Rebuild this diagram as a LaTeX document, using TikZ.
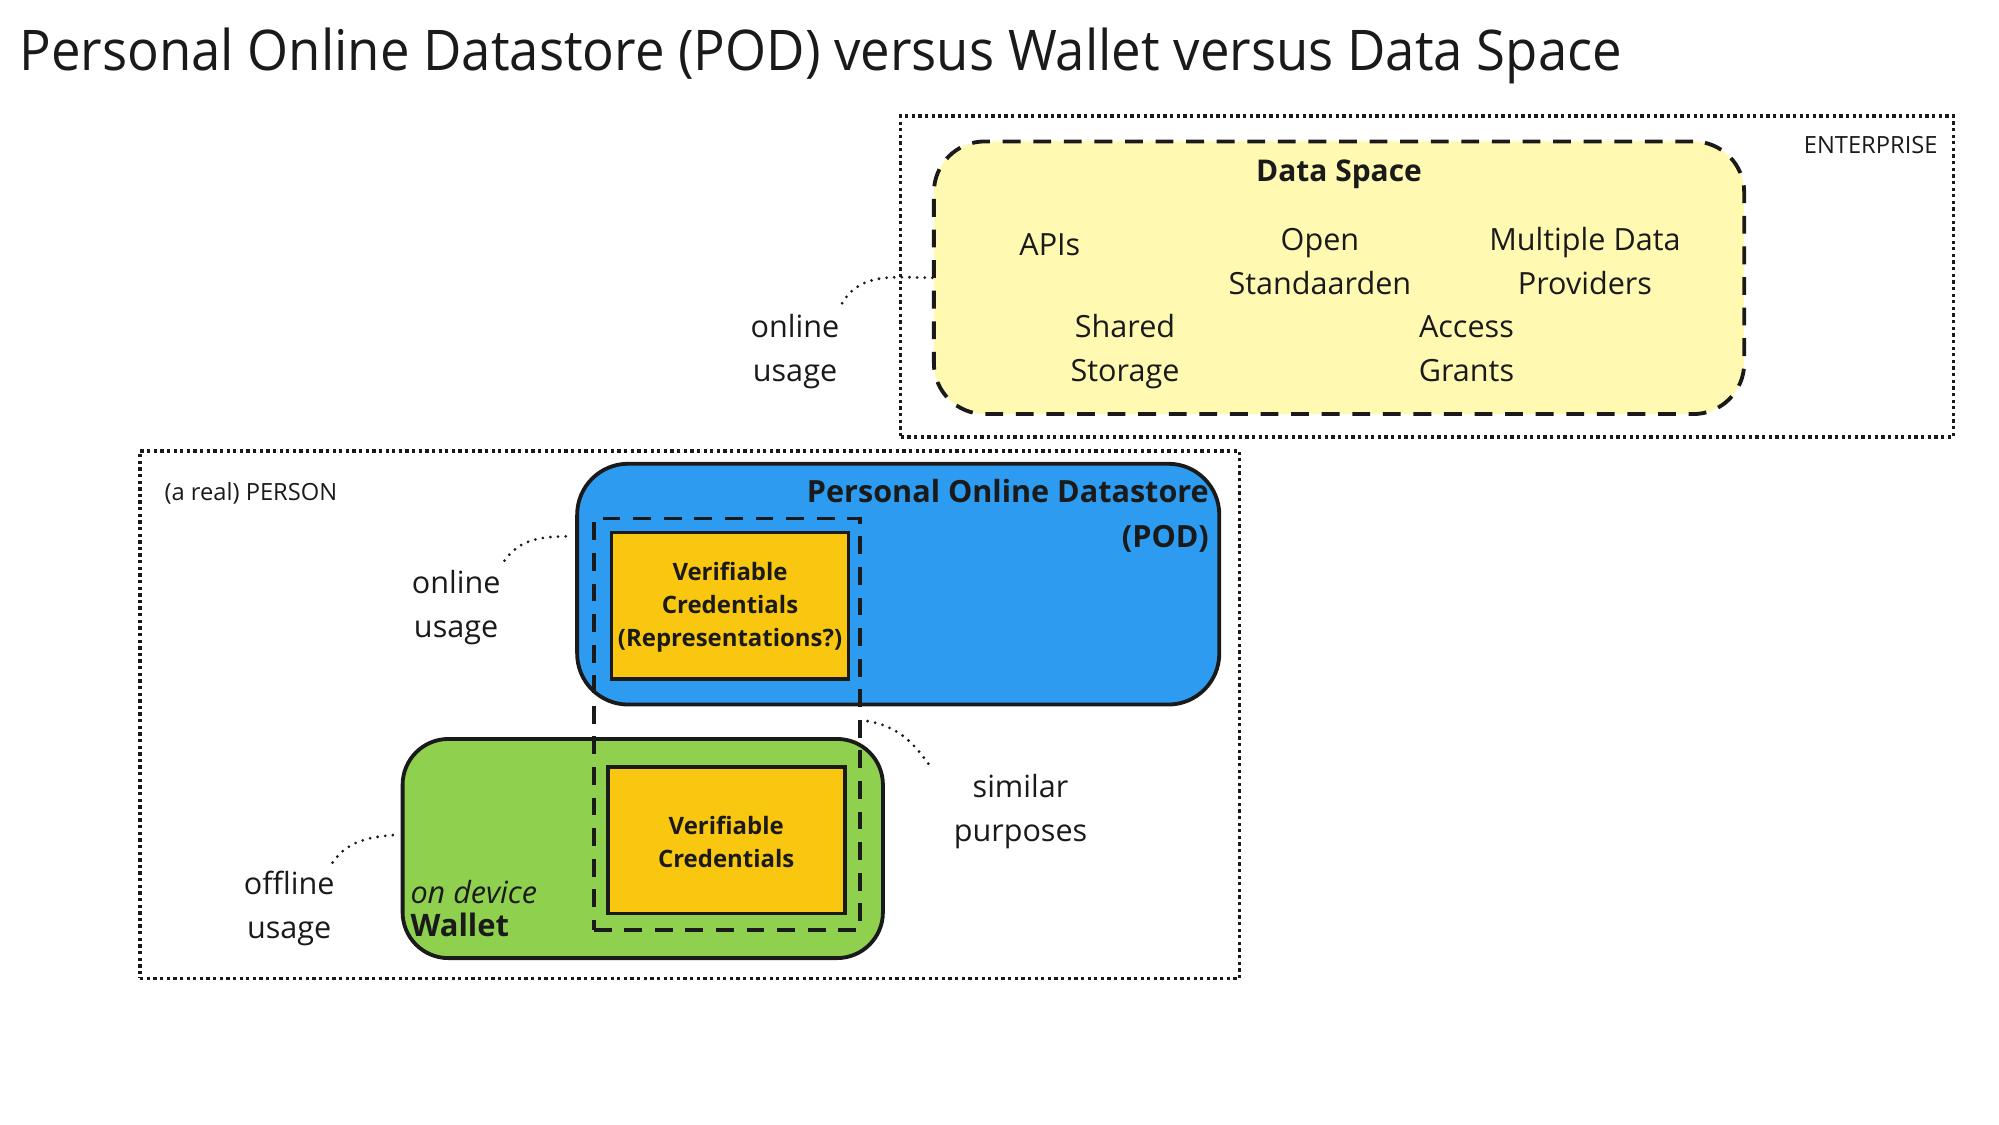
\documentclass[tikz,border=0pt]{standalone}
\usepackage{fontspec}
\setmainfont{Open Sans}
\newfontfamily\titlefont{Open Sans}[FakeStretch=0.94]
\definecolor{ink}{HTML}{1A1A1A}
\definecolor{dsyellow}{HTML}{FFF9B1}
\definecolor{podblue}{HTML}{2D9BF0}
\definecolor{walletgreen}{HTML}{8FD14F}
\definecolor{vcyellow}{HTML}{FAC710}
\begin{document}
\begin{tikzpicture}[x=1pt,y=-1pt,
  frame/.style={draw=ink, line width=2.6pt, dash pattern=on 2.6pt off 2.6pt, inner sep=0pt, outer sep=0pt, anchor=north west},
  box/.style={draw=ink, line width=3pt, inner sep=0pt, outer sep=0pt, anchor=north west},
  dashbox/.style={draw=ink, line width=3pt, dash pattern=on 14pt off 10pt, inner sep=0pt, outer sep=0pt, anchor=north west},
  lbl/.style={font=\fontsize{24}{34.5}\selectfont, text=ink, align=center, inner sep=0pt},
  small/.style={font=\fontsize{18.6}{22}\selectfont, text=ink, inner sep=0pt},
  vctext/.style={font=\bfseries\fontsize{18.8}{26}\selectfont, text=ink, align=center, inner sep=0pt},
  conn/.style={draw=ink, line width=2.4pt, dash pattern=on 0pt off 6pt, line cap=round}
]
\useasboundingbox (0,0) rectangle (1569,882.6);
\fill[white] (0,0) rectangle (1569,882.6);

% title
\node[anchor=base west, inner sep=0pt, text=ink, font=\titlefont\fontsize{44}{50}\selectfont] (title) at (15,55) {Personal Online Datastore (POD) versus Wallet versus Data Space};

% enterprise
\node[frame, minimum width=826pt, minimum height=252pt] (ent) at (707,91) {};
\node[small, anchor=east] (entl) at (1521,114) {ENTERPRISE};
\node[dashbox, fill=dsyellow, rounded corners=40pt, minimum width=636pt, minimum height=214pt] (ds) at (733,111) {};
\node[font=\bfseries\fontsize{23.5}{28}\selectfont, text=ink, inner sep=0pt] (dst) at (1051,137) {Data Space};
\node[lbl] (apis) at (824,192) {APIs};
\node[lbl] (open) at (1036,205) {Open\\Standaarden};
\node[lbl] (mdp) at (1244,205) {Multiple Data\\Providers};
\node[lbl] (shs) at (883,276) {Shared\\Storage};
\node[lbl] (acg) at (1151,274) {Access\\Grants};
\node[lbl] (ou1) at (624,276) {online\\usage};

% person
\node[frame, minimum width=863pt, minimum height=414pt] (per) at (110,354) {};
\node[small, anchor=west] (perl) at (129,387) {(a real) PERSON};

% POD
\node[box, fill=podblue, rounded corners=40pt, minimum width=504pt, minimum height=189pt] (pod) at (453,364) {};
\node[font=\bfseries\fontsize{24}{35}\selectfont, text=ink, align=right, inner sep=0pt, anchor=east] (podl) at (949,405) {Personal Online Datastore\\(POD)};

% wallet
\node[box, fill=walletgreen, rounded corners=36pt, minimum width=377pt, minimum height=172pt] (wal) at (316,580) {};
\node[anchor=base west, inner sep=0pt, text=ink, font=\itshape\fontsize{24}{25}\selectfont] (ondev) at (322,709) {on device};
\node[anchor=base west, inner sep=0pt, text=ink, font=\bfseries\fontsize{24.3}{25}\selectfont] (wall) at (322,735) {Wallet};

% verifiable credentials
\node[box, fill=vcyellow, minimum width=186pt, minimum height=115pt] (vc1) at (480,418) {};
\node[vctext] (vc1t) at ([yshift=-1pt]vc1.center) {Verifiable\\Credentials\\(Representations?)};
\node[box, fill=vcyellow, minimum width=186pt, minimum height=115pt] (vc2) at (477,602) {};
\node[vctext] (vc2t) at ([yshift=-1pt]vc2.center) {Verifiable\\Credentials};

% group of similar purposes
\node[dashbox, minimum width=209pt, minimum height=323pt] (grp) at (466,407) {};

% labels
\node[lbl] (ou2) at (358,477) {online\\usage};
\node[lbl] (ofu) at (227,713) {offline\\usage};
\node[lbl] (sim) at (801,637) {similar\\purposes};

% connectors
\coordinate (a1) at (661,238);
\coordinate (a2) at (396,440);
\coordinate (b2) at (449,421);
\coordinate (a3) at (261,677);
\coordinate (b3) at (313,655);
\coordinate (a4) at (681,566);
\coordinate (b4) at (729,600);
\draw[conn] (a1) to[out=60,in=180] (ds.west);
\draw[conn] (a2) to[out=55,in=180] (b2);
\draw[conn] (a3) to[out=55,in=185] (b3);
\draw[conn] (a4) to[out=-10,in=125] (b4);
\end{tikzpicture}
\end{document}
